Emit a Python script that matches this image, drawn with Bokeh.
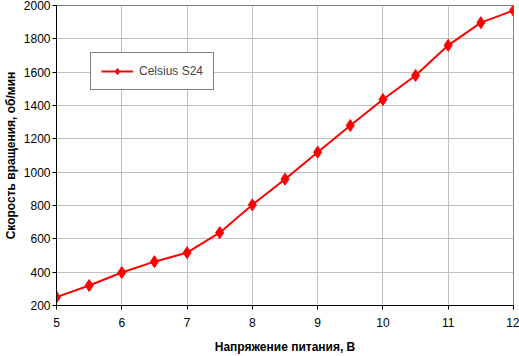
from bokeh.plotting import figure
from bokeh.models import Range1d, FixedTicker, Legend, LegendItem
from bokeh.embed import file_html
from bokeh.resources import INLINE

voltage = [5, 5.5, 6, 6.5, 7, 7.5, 8, 8.5, 9, 9.5, 10, 10.5, 11, 11.5, 12]
rpm = [250, 320, 398, 463, 517, 637, 804, 958, 1120, 1280, 1436, 1580, 1761, 1897, 1970]
series_name = "Celsius S24"
x_ticks = [5, 6, 7, 8, 9, 10, 11, 12]
y_ticks = [200, 400, 600, 800, 1000, 1200, 1400, 1600, 1800, 2000]

p = figure(width=519, height=356, output_backend="svg", toolbar_location=None,
           x_range=Range1d(5, 12), y_range=Range1d(200, 2000),
           min_border_left=0, min_border_right=6, min_border_top=5, min_border_bottom=0)
p.background_fill_color = "white"
p.border_fill_color = "white"
p.outline_line_color = "#808080"
p.outline_line_width = 1

for ax in (p.xaxis[0], p.yaxis[0]):
    ax.axis_line_color = "black"
    ax.axis_line_width = 1
    ax.major_tick_line_color = "black"
    ax.major_tick_out = 4
    ax.major_tick_in = 0
    ax.minor_tick_line_color = None
    ax.major_label_text_font = "Liberation Sans"
    ax.major_label_text_font_size = "12px"
    ax.major_label_text_color = "black"
    ax.axis_label_text_font = "Liberation Sans"
    ax.axis_label_text_font_size = "12px"
    ax.axis_label_text_font_style = "bold"
    ax.axis_label_text_color = "black"

p.xaxis[0].ticker = FixedTicker(ticks=x_ticks)
p.yaxis[0].ticker = FixedTicker(ticks=y_ticks)
p.xaxis[0].axis_label = "Напряжение питания, В"
p.yaxis[0].axis_label = "Скорость вращения, об/мин"
p.xaxis[0].major_label_standoff = 8
p.yaxis[0].major_label_standoff = 2
p.xaxis[0].axis_label_standoff = 10
p.yaxis[0].axis_label_standoff = 3

p.grid.grid_line_color = "#c0c0c0"
p.grid.grid_line_width = 1

l = p.line(voltage, rpm, line_color="#ff0000", line_width=2)
m = p.scatter(voltage, rpm, marker="diamond", size=12, fill_color="#ff0000", line_color="#ff0000")

legend = Legend(items=[LegendItem(label=series_name, renderers=[l, m])],
                location=(34, 215))
legend.border_line_color = "black"
legend.border_line_width = 1
legend.background_fill_alpha = 1
legend.label_text_font = "Liberation Sans"
legend.label_text_font_size = "12px"
legend.glyph_width = 32
legend.glyph_height = 16
legend.label_height = 16
legend.padding = 10
legend.margin = 0
legend.label_standoff = 6
p.add_layout(legend)

open("out.html", "w").write(file_html(p, INLINE))
